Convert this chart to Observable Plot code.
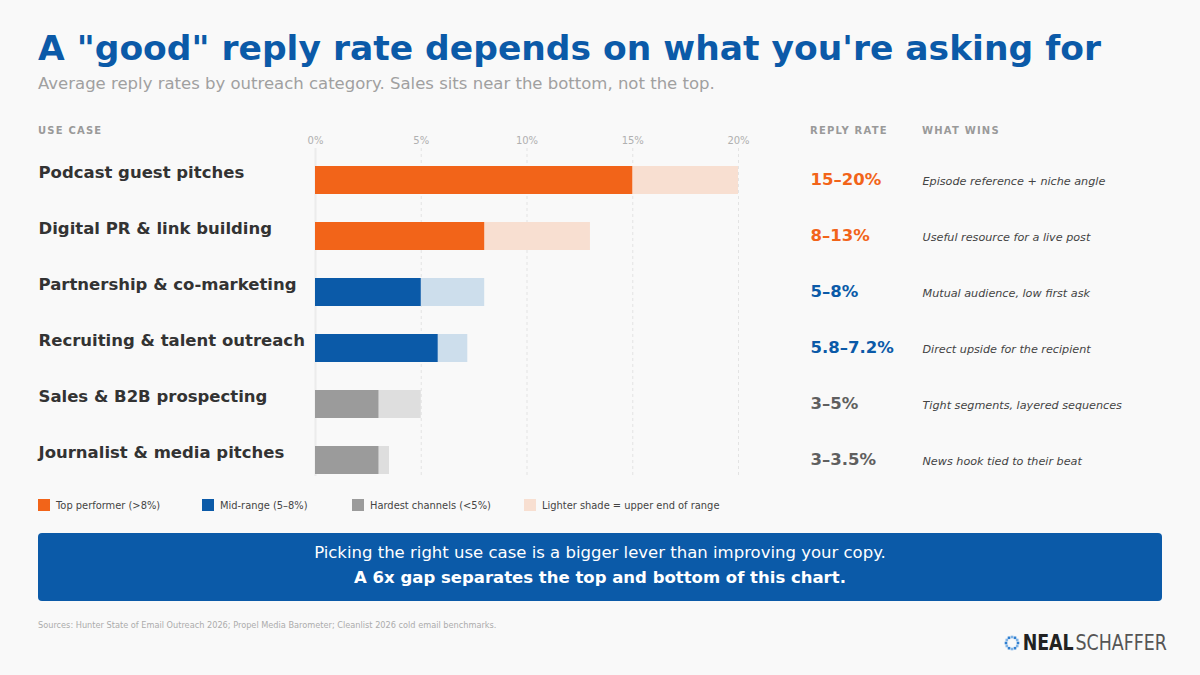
<!DOCTYPE html>
<html>
<head>
<meta charset="utf-8">
<script src="https://cdn.jsdelivr.net/npm/d3@7"></script>
<script src="https://cdn.jsdelivr.net/npm/@observablehq/plot@0.6"></script>
<style>
  html, body { margin: 0; padding: 0; }
  body {
    width: 1200px; height: 675px; position: relative; overflow: hidden;
    background: #f9f9f9; font-family: "DejaVu Sans", sans-serif;
  }
  .abs { position: absolute; line-height: 1; white-space: nowrap; }
  #title { left: 38px; top: 30.8px; font-size: 34.5px; font-weight: bold; color: #0b5aa8; }
  #subtitle { left: 38px; top: 76px; font-size: 16.5px; color: #a0a0a0; }
  .colhead { top: 125.5px; font-size: 10px; font-weight: bold; letter-spacing: 1.2px; color: #9a9a9a; }
  #chart { position: absolute; left: 0; top: 110px; }
  .legend-item { top: 499px; font-size: 9.9px; color: #444; }
  .legend-item .sw { position: absolute; left: 0; top: 0; width: 12px; height: 12px; }
  .legend-item .lb { position: absolute; left: 18px; top: 1.5px; }
  #banner {
    position: absolute; left: 38px; top: 533px; width: 1124px; height: 68px;
    background: #0b5aa8; border-radius: 4px; color: #fff; text-align: center;
  }
  #banner .l1 { position: absolute; left: 0; right: 0; top: 12px; font-size: 16.5px; line-height: 1; }
  #banner .l2 { position: absolute; left: 0; right: 0; top: 37px; font-size: 16.5px; line-height: 1; font-weight: bold; }
  #sources { left: 38px; top: 621px; font-size: 8.2px; color: #acacac; }
  #logo { left: 1004px; top: 633px; height: 20px; display: flex; align-items: center; }
  #logo .words { transform: scaleX(0.88); transform-origin: left center; display: flex; }
  #logo .word { font-family: "Liberation Sans Narrow", "DejaVu Sans Condensed", "Roboto", sans-serif; font-size: 22px; line-height: 1; }
  #logo .neal { font-weight: bold; color: #222; margin-left: 3px; }
  #logo .schaffer { color: #555; margin-left: 2px; font-weight: 300; }
</style>
</head>
<body>
<div id="title" class="abs">A "good" reply rate depends on what you're asking for</div>
<div id="subtitle" class="abs">Average reply rates by outreach category. Sales sits near the bottom, not the top.</div>

<div class="abs colhead" style="left:38px">USE CASE</div>
<div class="abs colhead" style="left:810px">REPLY RATE</div>
<div class="abs colhead" style="left:922px">WHAT WINS</div>

<div id="chart"></div>
<div id="legend"></div>

<div id="banner">
  <div class="l1">Picking the right use case is a bigger lever than improving your copy.</div>
  <div class="l2">A 6x gap separates the top and bottom of this chart.</div>
</div>

<div id="sources" class="abs">Sources: Hunter State of Email Outreach 2026; Propel Media Barometer; Cleanlist 2026 cold email benchmarks.</div>

<div id="logo" class="abs">
  <svg width="16" height="16" viewBox="0 0 16 16" id="logo-mark"></svg>
  <div class="words"><span class="word neal">NEAL</span><span class="word schaffer">SCHAFFER</span></div>
</div>

<script>
// Outreach categories, top to bottom
const useCases = [
  "Podcast guest pitches",
  "Digital PR & link building",
  "Partnership & co-marketing",
  "Recruiting & talent outreach",
  "Sales & B2B prospecting",
  "Journalist & media pitches"
];
// Reply-rate range, low and high end (%)
const rateLow  = [15, 8, 5, 5.8, 3, 3];
const rateHigh = [20, 13, 8, 7.2, 5, 3.5];
// Performance tier of each category
const tiers = ["top", "top", "mid", "mid", "hard", "hard"];
// What wins for each category
const whatWins = [
  "Episode reference + niche angle",
  "Useful resource for a live post",
  "Mutual audience, low first ask",
  "Direct upside for the recipient",
  "Tight segments, layered sequences",
  "News hook tied to their beat"
];
// Axis ticks (%)
const xTicks = [0, 5, 10, 15, 20];

// Legend entries
const legendLabels = ["Top performer (>8%)", "Mid-range (5–8%)", "Hardest channels (<5%)", "Lighter shade = upper end of range"];
const legendKeys = ["top", "mid", "hard", "light"];

const tierDark  = {top: "#f26419", mid: "#0b5aa8", hard: "#9b9b9b"};
const tierLight = {top: "#f8dfd1", mid: "#cddeec", hard: "#dedede", light: "#f8dfd1"};
const tierText  = {top: "#f26419", mid: "#0b5aa8", hard: "#5f5f5f"};

const rows = useCases.map((name, i) => ({
  name,
  lo: rateLow[i],
  hi: rateHigh[i],
  tier: tiers[i],
  label: `${rateLow[i]}–${rateHigh[i]}%`,
  wins: whatWins[i]
}));

const chart = Plot.plot({
  width: 1200,
  height: 380,
  marginLeft: 315,
  marginRight: 462,
  marginTop: 41,
  marginBottom: 2,
  style: {background: "transparent", fontFamily: "DejaVu Sans", overflow: "visible"},
  x: {
    domain: [0, 20],
    ticks: xTicks,
    tickFormat: d => `${d}%`,
    axis: "top",
    label: null,
    tickSize: 0,
    tickPadding: 8,
    fontSize: 8
  },
  y: {domain: useCases, axis: null, padding: 0},
  marks: [
    Plot.ruleX(xTicks.filter(t => t > 0), {stroke: "#e3e3e3", strokeDasharray: "3,3", insetTop: -3, insetBottom: 12}),
    Plot.ruleX([0], {stroke: "#ececec", strokeWidth: 2, insetTop: -3, insetBottom: 12}),
    // full range in the lighter shade, low end in the tier colour on top
    Plot.barX(rows, {x: "hi", y: "name", fill: d => tierLight[d.tier], insetTop: 14, insetBottom: 14}),
    Plot.barX(rows, {x: "lo", y: "name", fill: d => tierDark[d.tier], insetTop: 14, insetBottom: 14}),
    Plot.text(rows, {
      y: "name", text: "name", frameAnchor: "left", dx: -277, dy: -3, textAnchor: "start",
      lineAnchor: "bottom", fontSize: 16.5, fontWeight: "bold", fill: "#333"
    }),
    Plot.text(rows, {
      y: "name", text: "label", frameAnchor: "right", dx: 72, dy: 4, textAnchor: "start",
      lineAnchor: "bottom", fontSize: 16.5, fontWeight: "bold", fill: d => tierText[d.tier]
    }),
    Plot.text(rows, {
      y: "name", text: "wins", frameAnchor: "right", dx: 184, dy: 4, textAnchor: "start",
      lineAnchor: "bottom", fontSize: 11.2, fontStyle: "italic", fill: "#444"
    })
  ]
});
d3.select(chart).selectAll("g[aria-label='x-axis tick label']").attr("fill", "#b0b0b0");
document.getElementById("chart").appendChild(chart);

// Legend row
const legendLeft = [38, 202, 352, 524];
const legend = d3.select("#legend");
legendLabels.forEach((lab, i) => {
  const item = legend.append("div").attr("class", "abs legend-item").style("left", legendLeft[i] + "px");
  const key = legendKeys[i];
  item.append("div").attr("class", "sw").style("background", key === "light" ? tierLight.light : tierDark[key]);
  item.append("div").attr("class", "lb abs").text(lab);
});

// Logo mark: ring of small squares
const mark = d3.select("#logo-mark");
d3.range(12).forEach(k => {
  const a = k / 12 * 2 * Math.PI;
  mark.append("rect")
    .attr("x", 8 + 6 * Math.cos(a) - 1.3)
    .attr("y", 8 + 6 * Math.sin(a) - 1.3)
    .attr("width", 2.6).attr("height", 2.6)
    .attr("fill", k % 2 ? "#7fb3e6" : "#2f7fd0");
});
</script>
</body>
</html>
